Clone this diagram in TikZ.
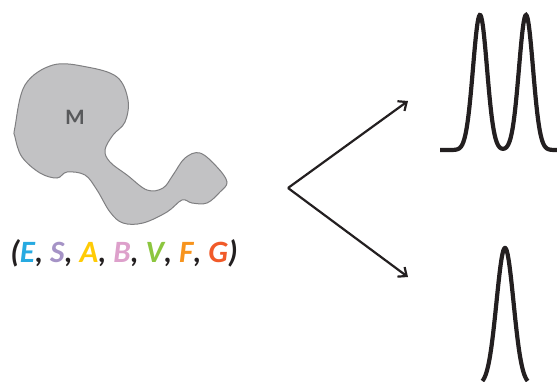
\documentclass[tikz,border=0pt]{standalone}
\usepackage{fontspec}
\setmainfont{Carlito}
\usetikzlibrary{arrows.meta}
\definecolor{inkblack}{HTML}{231F20}
\definecolor{blobfill}{HTML}{C2C2C4}
\definecolor{blobline}{HTML}{7F7F81}
\definecolor{mgray}{HTML}{58595B}
\definecolor{colE}{HTML}{27AAE1}
\definecolor{colS}{HTML}{A593C6}
\definecolor{colA}{HTML}{FFCB05}
\definecolor{colB}{HTML}{DDA0CB}
\definecolor{colV}{HTML}{8CC63F}
\definecolor{colF}{HTML}{F7941E}
\definecolor{colG}{HTML}{F15A29}
\begin{document}
\begin{tikzpicture}[x=1pt, y=-1pt, >={Straight Barb[length=7pt, width=12pt, line width=2.2pt]}]
\tikzset{
	blob/.style={fill=blobfill, draw=blobline, line width=1pt},
	route/.style={->, draw=inkblack, line width=2.2pt},
	spectrum/.style={draw=inkblack, line width=4.2pt, smooth, samples=160},
	molname/.style={font=\bfseries\fontsize{22}{22}\selectfont, text=mgray},
	tuple/.style={font=\bfseries\itshape\fontsize{31}{31}\selectfont, text=inkblack, inner sep=0pt}
}
\useasboundingbox (0,0) rectangle (557,381);

\draw[blob] plot[smooth cycle, tension=0.6] coordinates {
(15,127) (25,85) (53,65) (87,67) (117,77) (128,100) (125,122) (113,135)
(105,150) (110,162) (127,175) (147,190) (163,188) (173,175) (185,158)
(200,153) (217,167) (227,182) (220,192) (207,203) (192,203) (182,200)
(167,212) (143,223) (123,223) (110,212) (97,190) (85,175) (67,172)
(57,178) (40,173) (22,157) (15,137)};

\node[molname] (mol) at (75,117) {M};
\node[tuple] (params) at (124,253)
{(\textcolor{colE}{E}, \textcolor{colS}{S}, \textcolor{colA}{A}, \textcolor{colB}{B}, \textcolor{colV}{V}, \textcolor{colF}{F}, \textcolor{colG}{G})};

\coordinate (fork) at (288,188);
\coordinate (upper) at (408,101);
\coordinate (lower) at (408,277);
\draw[route] (fork) -- (upper);
\draw[route] (fork) -- (lower);

\draw[spectrum, domain=440:557] plot ({\x},{150-135*exp(-((\x-480)^2)/98)-135*exp(-((\x-526)^2)/98)});
\draw[spectrum, domain=482.4:527.6] plot ({\x},{385-137*exp(-((\x-505)^2)/144.5)});

\end{tikzpicture}
\end{document}
